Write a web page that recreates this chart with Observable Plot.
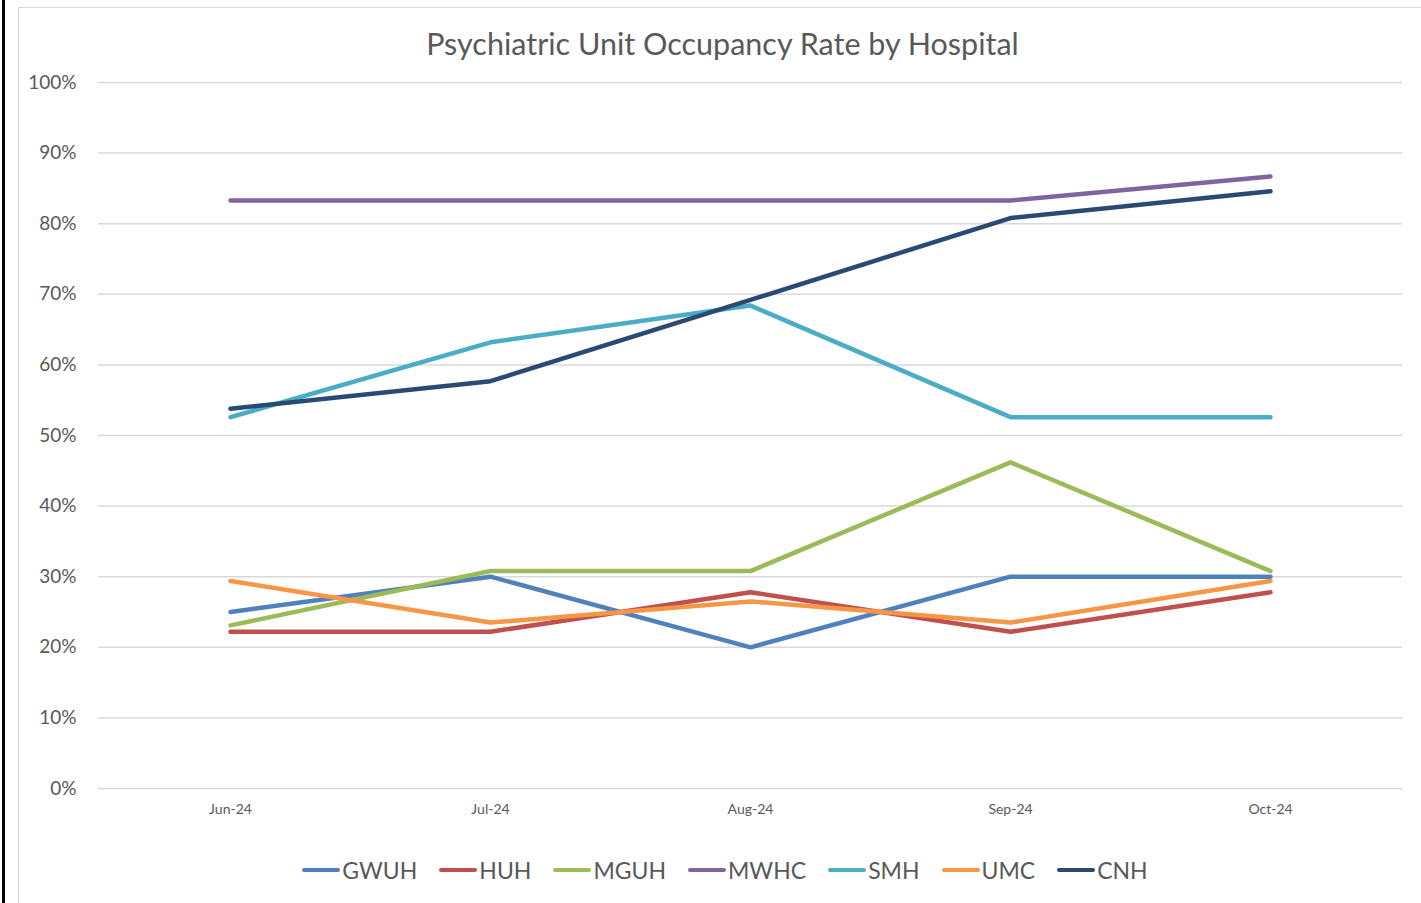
<!DOCTYPE html>
<html>
<head>
<meta charset="utf-8">
<script src="https://cdn.jsdelivr.net/npm/d3@7"></script>
<script src="https://cdn.jsdelivr.net/npm/@observablehq/plot@0.6"></script>
<style>
  html, body { margin: 0; padding: 0; background: #fff; width: 1421px; height: 903px; overflow: hidden; font-family: Lato, "Open Sans", sans-serif; }
  #blackline { position: absolute; left: 2px; top: 0; width: 3px; height: 903px; background: #000; }
  #frame { position: absolute; left: 18px; top: 7px; width: 1420px; height: 920px; border: 1.5px solid #d9d9d9; box-sizing: border-box; }
  #title { position: absolute; left: 0; top: 25px; width: 1445px; text-align: center; font-size: 30.5px; color: #595959; z-index: 3; }
  #chart { position: absolute; left: 0; top: 0; z-index: 2; }
  #legend { position: absolute; left: 0; top: 856px; width: 1450px; display: flex; justify-content: center; gap: 22px; z-index: 3; }
  .item { display: flex; align-items: center; font-size: 23px; color: #595959; }
  .sw { width: 38px; height: 4.5px; border-radius: 2px; margin-right: 2px; }
</style>
</head>
<body>
<div id="blackline"></div>
<div id="frame"></div>
<div id="title">Psychiatric Unit Occupancy Rate by Hospital</div>
<div id="chart"></div>
<div id="legend"></div>
<script>
const months = ["Jun-24", "Jul-24", "Aug-24", "Sep-24", "Oct-24"];
const hospitals = ["GWUH", "HUH", "MGUH", "MWHC", "SMH", "UMC", "CNH"];
const colors = ["#4F81BD", "#C0504D", "#9BBB59", "#8064A2", "#4BACC6", "#F79646", "#2A4A74"];
const GWUH = [25.0, 30.0, 20.0, 30.0, 30.0];
const HUH  = [22.2, 22.2, 27.8, 22.2, 27.8];
const MGUH = [23.1, 30.8, 30.8, 46.2, 30.8];
const MWHC = [83.3, 83.3, 83.3, 83.3, 86.7];
const SMH  = [52.6, 63.2, 68.4, 52.6, 52.6];
const UMC  = [29.4, 23.5, 26.5, 23.5, 29.4];
const CNH  = [53.8, 57.7, 69.2, 80.8, 84.6];
const yTicks = [0, 10, 20, 30, 40, 50, 60, 70, 80, 90, 100];

const series = {GWUH, HUH, MGUH, MWHC, SMH, UMC, CNH};
const data = hospitals.flatMap(h => months.map((m, i) => ({hospital: h, month: m, value: series[h][i]})));

const plot = Plot.plot({
  width: 1421,
  height: 840,
  marginLeft: 98,
  marginRight: 19,
  marginTop: 82,
  marginBottom: 52,
  style: {background: "transparent", fontFamily: "Lato, 'Open Sans', sans-serif", color: "#595959"},
  x: {type: "point", domain: months, padding: 0.5, align: 0.5, label: null},
  y: {domain: [0, 100], label: null},
  color: {domain: hospitals, range: colors},
  marks: [
    Plot.ruleY(yTicks, {stroke: "#d9d9d9", strokeWidth: 1.5}),
    Plot.axisY({ticks: yTicks, tickSize: 0, tickPadding: 22, tickFormat: d => d + "%", fontSize: 19, fill: "#595959"}),
    Plot.axisX({tickSize: 0, tickPadding: 16, fontSize: 14, fill: "#595959"}),
    Plot.line(data, {x: "month", y: "value", z: "hospital", stroke: "hospital", strokeWidth: 4.5, strokeLinecap: "round", strokeLinejoin: "round"})
  ]
});
document.getElementById("chart").appendChild(plot);

const legend = document.getElementById("legend");
hospitals.forEach((h, i) => {
  const it = document.createElement("div");
  it.className = "item";
  const sw = document.createElement("div");
  sw.className = "sw";
  sw.style.background = colors[i];
  const t = document.createElement("span");
  t.textContent = h;
  it.appendChild(sw);
  it.appendChild(t);
  legend.appendChild(it);
});
</script>
</body>
</html>
